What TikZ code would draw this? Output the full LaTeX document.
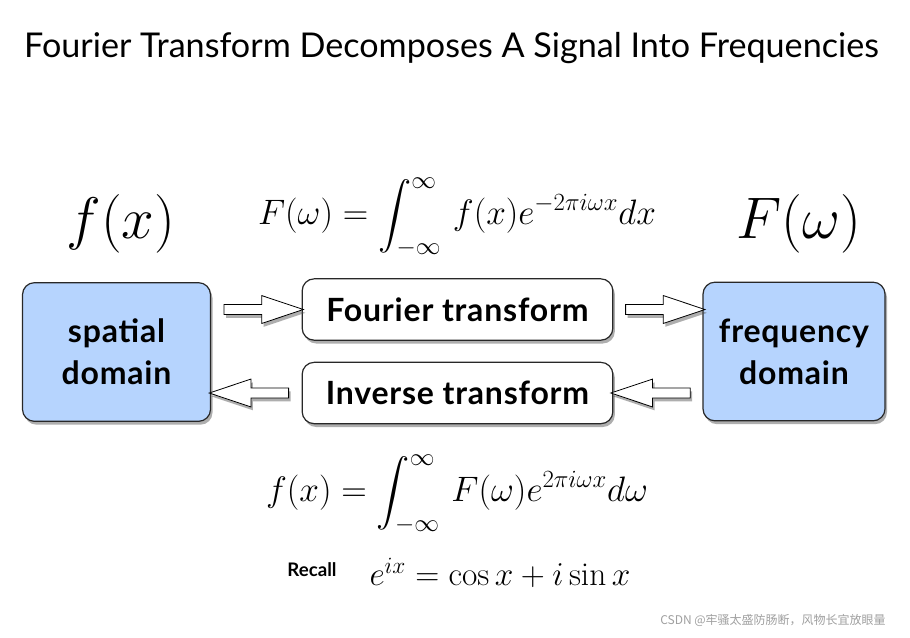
\RequirePackage{fix-cm}
\documentclass[tikz,border=0pt]{standalone}
\usepackage{amsmath}
\usepackage{fontspec}
\usepackage{tikz}
\usetikzlibrary{shapes.arrows,shadows,calc}
\newfontfamily\latofont{Lato}
\newfontfamily\latowide{Lato}[LetterSpace=2.5]
\newfontfamily\cjkfont{Noto Sans CJK SC}
\definecolor{DomFill}{RGB}{182,212,254}
\definecolor{DomLine}{RGB}{40,40,40}
\definecolor{MarkGray}{RGB}{160,160,160}
\tikzset{
  shd/.style={drop shadow={shadow xshift=1.5pt, shadow yshift=-2.5pt,
    opacity=0.45, fill=black!70}},
  nd_dom/.style={
    rectangle, rounded corners=9pt, shd,
    draw=DomLine, line width=0.9pt, fill=DomFill,
    minimum width=141pt, minimum height=104pt,
    align=center, font=\latowide\bfseries\fontsize{24}{31.5}\selectfont},
  nd_tf/.style={
    rectangle, rounded corners=9pt, shd,
    draw=DomLine, line width=0.9pt, fill=white,
    minimum width=233pt, minimum height=46pt,
    align=center, font=\latowide\bfseries\fontsize{24}{28}\selectfont},
  nd_arr/.style={
    single arrow, shd, draw=black, line width=0.6pt, fill=white,
    inner sep=3.4pt, minimum height=59.5pt, minimum width=20.25pt,
    single arrow head extend=6.75pt, single arrow tip angle=37},
  nd_eq/.style={inner sep=0pt, font=\fontsize{26.5}{30}\selectfont},
  nd_big/.style={inner sep=0pt, font=\fontsize{44}{50}\selectfont},
}

\begin{document}
\begin{tikzpicture}[x=0.75pt,y=-0.75pt]

%% page
\fill[white] (0,0) rectangle (910,637);
\useasboundingbox (0,0) rectangle (910,637);

%% title
\node[anchor=base,inner sep=0pt,font=\latofont\fontsize{25.6}{30}\selectfont]
  at (451.5,57) (T){Fourier Transform Decomposes A Signal Into Frequencies};

%% domains
\node[nd_dom] at (116.5,352) (SD){spatial\\domain};
\node[nd_dom,minimum width=136.5pt] at (794,351.5) (FD){frequency\\domain};

%% transforms
\node[nd_tf] at (457.5,309.5) (FT){Fourier transform};
\node[nd_tf] at (457.5,393) (IT){Inverse transform};

%% block arrows
\node[nd_arr] at ($(SD.east|-FT.west)!0.5!(FT.west)$) (A1){};
\node[nd_arr] at ($(FT.east)!0.5!(FD.west|-FT.east)$) (A2){};
\node[nd_arr,shape border rotate=180] at ($(SD.east|-IT.west)!0.5!(IT.west)$) (A3){};
\node[nd_arr,shape border rotate=180] at ($(IT.east)!0.5!(FD.west|-IT.east)$) (A4){};

%% big symbols
\node[nd_big] at (121,224) (FX){$f(x)$};
\node[nd_big] at (799,224) (FW){$F(\omega)$};

%% formulas
\node[nd_eq] at (457,217) (E1)
  {$\displaystyle F(\omega)=\int_{-\infty}^{\infty}\, f(x)e^{-2\pi i\omega x}dx$};
\node[nd_eq] at (457,494) (E2)
  {$\displaystyle f(x)=\int_{-\infty}^{\infty}\, F(\omega)e^{2\pi i\omega x}d\omega$};
\node[nd_eq,font=\fontsize{25}{30}\selectfont] at (500,573) (E3){$e^{ix}=\cos x+i\sin x$};
\node[inner sep=0pt,font=\latofont\bfseries\fontsize{14}{16}\selectfont]
  at (312,570) (R){Recall};

%% watermark
\node[inner sep=0pt,text=MarkGray,font=\cjkfont\fontsize{9}{11}\selectfont]
  at (773,620) (W){CSDN @牢骚太盛防肠断，风物长宜放眼量};

\end{tikzpicture}
\end{document}
